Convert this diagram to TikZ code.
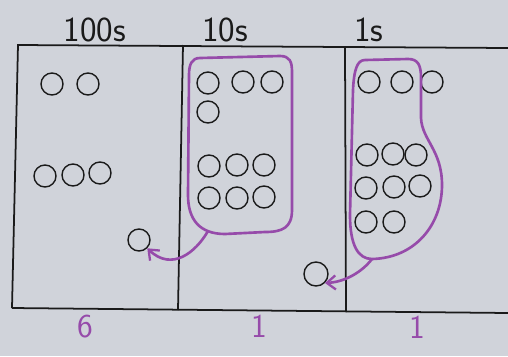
\documentclass[tikz,border=0pt]{standalone}
\usepackage{xcolor}
\usepackage{tikz}
\usetikzlibrary{arrows.meta,positioning,calc}
\definecolor{papier}{HTML}{D0D3DA}
\definecolor{feutre}{HTML}{964BAA}
\definecolor{encre}{HTML}{1A1A1A}

\begin{document}
\begin{tikzpicture}[
    x=0.02cm,y=-0.02cm,
    titre/.style  = {font=\sffamily\fontsize{20}{22}\selectfont,text=encre,inner sep=0pt},
    chiffre/.style= {font=\sffamily\fontsize{19}{21}\selectfont,text=feutre,inner sep=0pt},
    jeton/.style  = {circle,draw=encre,line width=0.8pt,minimum size=0.44cm,inner sep=0pt},
    grand/.style  = {jeton,minimum size=0.48cm},
    trait/.style  = {encre,line width=1pt},
    boucle/.style = {feutre,line width=1.5pt,line join=round},
    fleche/.style = {feutre,line width=1.5pt,
                     -{Straight Barb[length=5pt,width=8pt,line width=1.3pt]}},
  ]

  % ── Fond ──────────────────────────────────────────────────────────────────
  \fill[papier] (0,0) rectangle (508,356);
  \useasboundingbox (0,0) rectangle (508,356);

  % ── Tableau et titres ────────────────────────────────────────────────────
  \node[titre] (h100) at (95,30) {100s};
  \node[titre] (h10)  at (225,30) {10s};
  \node[titre] (h1)   at (369,30) {1s};

  \draw[trait] (12,308) -- (18,45) -- (508,48);
  \draw[trait] (12,308) -- (508,313);
  \draw[trait] (183,45) -- (178,310);
  \draw[trait] (345,47) -- (346,312);

  % ── Centaines ─────────────────────────────────────────────────────────────
  \foreach \i/\x/\y in {1/52/84,2/88/84,3/45/176,4/73/175,5/100/173}
    \node[jeton] (c\i) at (\x,\y) {};
  \node[jeton] (u100) at (139,240) {};

  % ── Dizaines ──────────────────────────────────────────────────────────────
  \foreach \i/\x/\y in {1/208/83,2/243/82,3/272/82,4/208/112,
                        5/209/166,6/237/165,7/264/165,
                        8/209/198,9/237/198,10/264/197}
    \node[jeton] (d\i) at (\x,\y) {};
  \node[grand] (u10) at (316,274) {};

  \draw[boucle] (200,58) -- (280,56) .. controls (290,56) and (292,62) .. (292,72)
    -- (292,210) .. controls (292,228) and (282,232) .. (265,232)
    -- (225,234) .. controls (200,234) and (188,220) .. (188,195)
    -- (189,75) .. controls (189,64) and (192,58) .. (200,58) -- cycle;
  \coordinate (g10) at (208,231);
  \draw[fleche] (g10) .. controls (196,252) and (172,272) .. (u100.south east);

  % ── Unités ────────────────────────────────────────────────────────────────
  \foreach \i/\x/\y in {1/369/82,2/402/82,3/432/82,
                        4/367/155,5/393/154,6/416/155,
                        7/366/188,8/394/187,9/420/186,
                        10/366/222,11/394/222}
    \node[jeton] (e\i) at (\x,\y) {};

  \draw[boucle] (365,60) -- (408,59) .. controls (418,59) and (421,65) .. (421,78)
    -- (421,118) .. controls (422,140) and (442,150) .. (442,185)
    .. controls (442,225) and (415,258) .. (372,259)
    .. controls (358,259) and (350,245) .. (350,215)
    -- (353,90) .. controls (354,70) and (357,60) .. (365,60) -- cycle;
  \coordinate (g1) at (372,259);
  \draw[fleche] (g1) .. controls (362,272) and (345,282) .. (u10.south east);

  % ── Résultat ──────────────────────────────────────────────────────────────
  \node[chiffre] (r100) at (85,327) {6};
  \node[chiffre] (r10)  at (259,326) {1};
  \node[chiffre] (r1)   at (417,327) {1};

\end{tikzpicture}
\end{document}
